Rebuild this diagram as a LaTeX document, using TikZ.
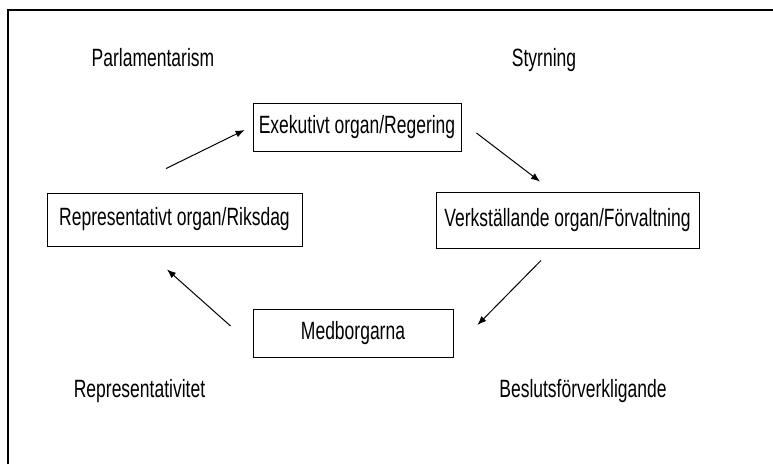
\documentclass[tikz,border=0pt]{standalone}
\usepackage{fontspec}
\setmainfont{Liberation Sans}[FakeStretch=0.7]
\usepackage{tikz}
\usetikzlibrary{arrows.meta, calc}

\begin{document}
\begin{tikzpicture}[
			x=1pt, y=-1pt,
			font=\fontsize{25}{29}\selectfont,
			organ/.style={rectangle, draw=black, line width=0.9pt, inner sep=0pt, align=center},
			corner/.style={anchor=base, inner sep=0pt},
			arrow/.style={-{Latex[length=9pt, width=7pt]}, line width=1pt, color=black},
			frame/.style={line width=2pt, color=black}
			]
			\useasboundingbox (0,0) rectangle (773,464);
			
			% --- Outer frame (top and left edges only) ---
			\draw[frame] (7.5,464) |- (773,9.5);
			
			% --- Organs ---
			\node[organ, minimum width=208pt, minimum height=48pt] (exe) at (357, 127) {Exekutivt organ/Regering};
			\node[organ, minimum width=255pt, minimum height=53pt] (rep) at (174.5, 219.5) {Representativt organ/Riksdag};
			\node[organ, minimum width=263pt, minimum height=56pt] (verk) at (567.5, 220) {Verkställande organ/Förvaltning};
			\node[organ, minimum width=200pt, minimum height=48pt] (med) at (353, 333) {Medborgarna};
			
			% --- Corner labels ---
			\node[corner] (parl) at (153, 66) {Parlamentarism};
			\node[corner] (styr) at (544, 66) {Styrning};
			\node[corner] (repr) at (139.5, 397) {Representativitet};
			\node[corner] (besl) at (583, 397) {Beslutsförverkligande};
			
			% --- Cycle ---
			\draw[arrow] ($(rep.north)+(-8.5,-24)$) -- ($(exe.west)+(-8,3)$);
			\draw[arrow] ($(exe.east)+(15,6)$) -- ($(verk.north)+(-27.5,-10)$);
			\draw[arrow] ($(verk.south)+(-26.5,12)$) -- ($(med.east)+(24,-8)$);
			\draw[arrow] ($(med.west)+(-22,-7)$) -- ($(rep.south)+(-7.5,23)$);
			
			\end{tikzpicture}
\end{document}
